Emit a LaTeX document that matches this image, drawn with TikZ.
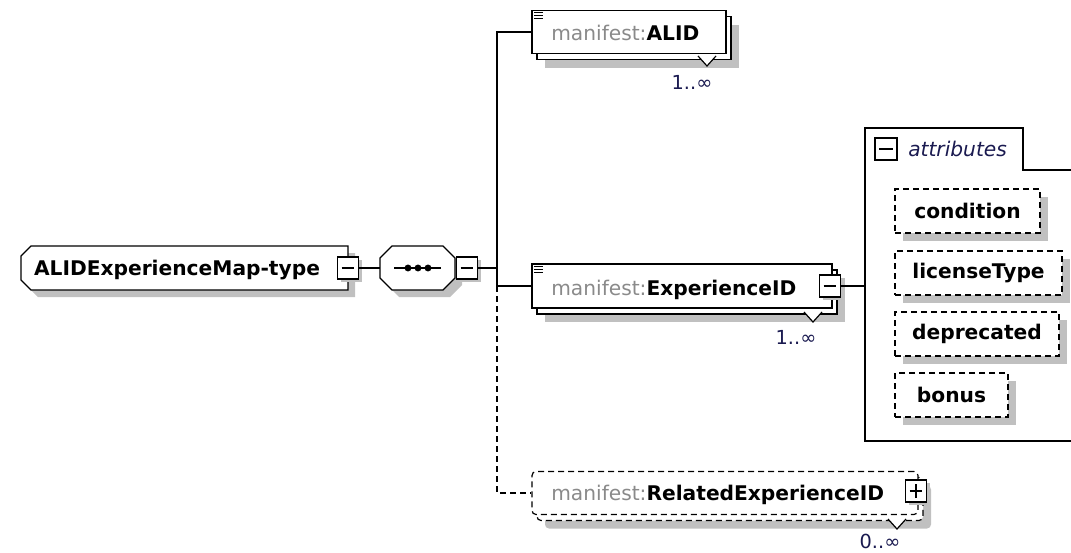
\documentclass[tikz,border=0pt]{standalone}
\usepackage{fontspec}
\setmainfont{DejaVu Sans}
\usetikzlibrary{shadows}
\definecolor{shadowgray}{HTML}{C0C0C0}
\definecolor{prefixgray}{HTML}{8A8A8A}
\definecolor{navy}{HTML}{1A1A50}
\newcommand\rootoutline{(31,246) -- (348,246) -- (348,290) -- (31,290) -- (21,280) -- (21,256) -- cycle}
\newcommand\seqoutline{(392,246) -- (443,246) -- (455,258) -- (455,278) -- (443,290) -- (392,290) -- (380,278) -- (380,258) -- cycle}
\tikzset{
  base/.style={font=\fontsize{15.15pt}{18pt}\selectfont},
  lw/.style={line width=0.9pt},
  dsh/.style={dash pattern=on 4.5pt off 3pt},
  shad/.style={drop shadow={shadow xshift=6pt, shadow yshift=-6pt, fill=shadowgray, opacity=1}},
  smallshad/.style={drop shadow={shadow xshift=2.5pt, shadow yshift=-2.5pt, fill=shadowgray, opacity=1}},
  elbox/.style={draw, lw, fill=white, inner sep=0pt},
  pmbox/.style={draw, lw, fill=white, minimum width=15.5pt, minimum height=16.5pt, inner sep=0pt},
  minusbox/.style={pmbox, path picture={\draw[lw] ([xshift=3pt]path picture bounding box.west) -- ([xshift=-3pt]path picture bounding box.east);}},
  plusbox/.style={pmbox, path picture={\draw[lw] ([xshift=3pt]path picture bounding box.west) -- ([xshift=-3pt]path picture bounding box.east); \draw[lw] ([yshift=3pt]path picture bounding box.south) -- ([yshift=-3pt]path picture bounding box.north);}},
  attrbox/.style={draw, lw, dsh, fill=white, minimum height=33pt, inner sep=0pt, font=\fontsize{15.15pt}{18pt}\selectfont\bfseries, shad},
  mult/.style={inner sep=0pt, text=navy, font=\fontsize{14.5pt}{16pt}\selectfont},
  lbl/.style={anchor=base west, inner sep=0pt},
  tri/.style={lw}
}
\begin{document}
\begin{tikzpicture}[x=0.75pt,y=-0.75pt, base]
\useasboundingbox (0,0) rectangle (1071,553);

% root
\fill[shadowgray, shift={(7,7)}] \rootoutline;
\draw[lw, fill=white] \rootoutline;
\node[minimum width=245.25pt, minimum height=33pt, inner sep=0pt] (root) at (184.5,268) {};
\node[anchor=base, inner sep=0pt, font=\fontsize{15.15pt}{18pt}\selectfont\bfseries] (rootlbl) at (177,275) {ALIDExperienceMap-type};
\node[minusbox, smallshad] (rootm) at (348,268) {};

% sequence
\fill[shadowgray, shift={(7,7)}] \seqoutline;
\draw[lw, fill=white] \seqoutline;
\node[minimum width=56.25pt, minimum height=33pt, inner sep=0pt] (seq) at (417.5,268) {};
\draw[lw] (394,268) -- (441,268);
\foreach \dx in {408,418,428} \fill (\dx,268) circle (2.6pt);
\node[minusbox, smallshad] (seqm) at (467,268) {};
\draw[lw] (rootm.east) -- (seq.west);
\coordinate (spmid) at (497,268);
\coordinate (spexp) at (497,286);
\draw[lw] (seqm.east) -- (spmid);

% ALID
\node[elbox, shad, minimum width=145.5pt, minimum height=32.25pt] (alidb) at (634,38) {};
\node[elbox, minimum width=145.5pt, minimum height=32.25pt] (alid) at (629,32) {};
\foreach \d in {0,3,6} \draw[line width=0.75pt] ([shift={(3,3+\d)}]alid.north west) -- ++(9,0);
\fill[white] (698,56) -- (707,66) -- (716,56) -- cycle;
\draw[tri] (698,56) -- (707,66) -- (716,56);
\node[lbl] (alidlbl) at (551,40) {\textcolor{prefixgray}{manifest:}\textbf{ALID}};
\node[mult] (alidmult) at (692,82) {1..∞};

% ExperienceID
\node[elbox, shad, minimum width=225pt, minimum height=33pt] (expb) at (687,292) {};
\node[elbox, minimum width=225pt, minimum height=33pt] (exp) at (682,286) {};
\foreach \d in {0,3,6} \draw[line width=0.75pt] ([shift={(3,3+\d)}]exp.north west) -- ++(9,0);
\fill[white] (804,312) -- (813,322) -- (822,312) -- cycle;
\draw[tri] (804,312) -- (813,322) -- (822,312);
\node[lbl] (explbl) at (551,295) {\textcolor{prefixgray}{manifest:}\textbf{ExperienceID}};
\node[minusbox, smallshad] (expm) at (830,286) {};
\node[mult] (expmult) at (796,337) {1..∞};

% spine
\draw[lw] (alid.west) -| (spexp) -- (exp.west);

% RelatedExperienceID
\node[elbox, dsh, rounded corners=3pt, shad, minimum width=289.5pt, minimum height=32.25pt] (relb) at (730,499) {};
\node[elbox, dsh, rounded corners=3pt, minimum width=289.5pt, minimum height=32.25pt] (rel) at (725,493) {};
\fill[white] (888,519) -- (897,529) -- (906,519) -- cycle;
\draw[tri] (888,519) -- (897,529) -- (906,519);
\node[lbl] (rellbl) at (551,500) {\textcolor{prefixgray}{manifest:}\textbf{RelatedExperienceID}};
\node[plusbox, smallshad] (relp) at (916,491) {};
\node[mult] (relmult) at (880,541) {0..∞};
\draw[lw, dsh] (spexp) |- (rel.west);

% attributes
\draw[lw] (1071,170) -- (1023,170) -- (1023,128) -- (865,128) -- (865,441) -- (1071,441);
\coordinate (attrin) at (865,286);
\draw[lw] (expm.east) -- (attrin);
\node[minusbox, minimum width=16.5pt, minimum height=16.5pt] (attrm) at (886,149) {};
\node[lbl, text=navy, font=\fontsize{15.15pt}{18pt}\selectfont\itshape] (attrlbl) at (908,156) {attributes};

\node[attrbox, minimum width=108.75pt] (cond) at (967.5,211) {condition};
\node[attrbox, minimum width=125.25pt] (lic) at (978.5,273) {licenseType};
\node[attrbox, minimum width=123pt] (depr) at (977,334) {deprecated};
\node[attrbox, minimum width=84.75pt] (bonus) at (951.5,395) {bonus};
\end{tikzpicture}
\end{document}
